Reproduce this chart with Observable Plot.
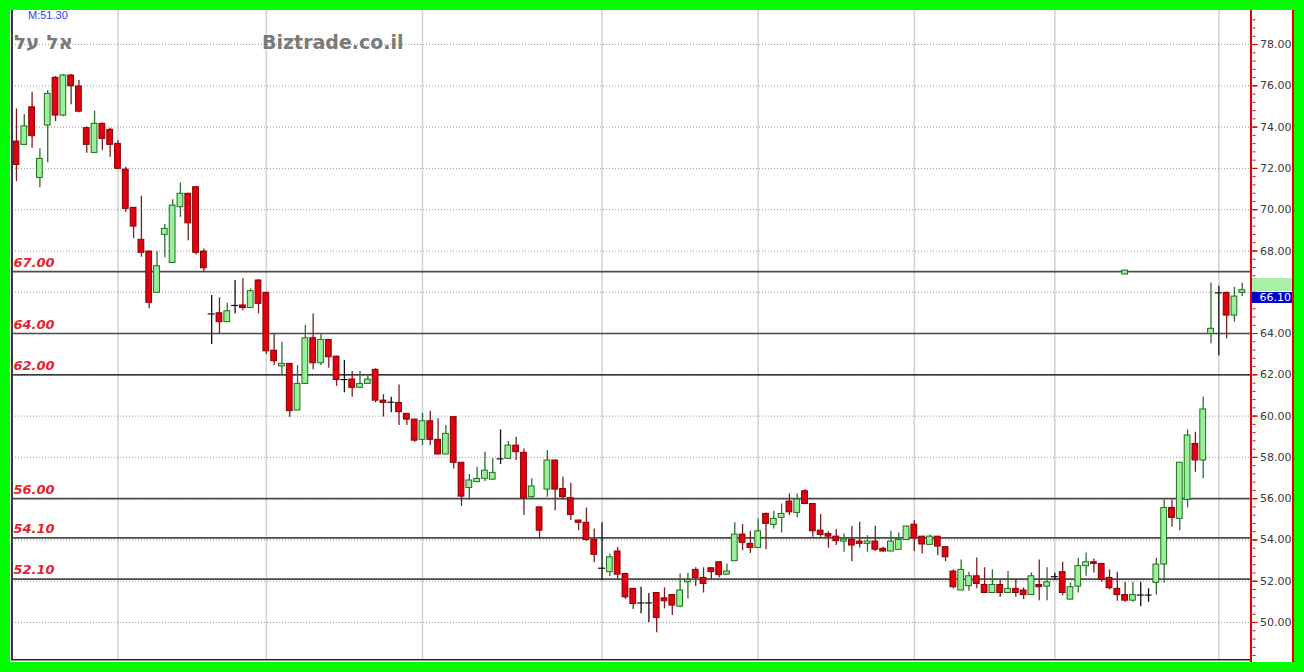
<!DOCTYPE html>
<html><head><meta charset="utf-8">
<script src="https://cdn.jsdelivr.net/npm/d3@7"></script>
<script src="https://cdn.jsdelivr.net/npm/@observablehq/plot@0.6"></script>
<style>
html,body{margin:0;padding:0;}
body{width:1304px;height:672px;background:#00ff00;position:relative;overflow:hidden;font-family:"DejaVu Sans",sans-serif;}
#panel{position:absolute;left:10px;top:10px;width:1284px;height:652px;background:#fff;overflow:hidden;}
.ov{position:absolute;}
</style></head><body>
<div id="panel"></div>
<script>
// OHLC values, one per trading day
const opens = [73.30,73.14,74.96,71.54,74.08,76.39,74.56,76.50,75.97,73.95,72.75,74.16,73.87,73.19,71.94,70.09,68.54,67.97,65.97,68.78,67.42,70.12,70.77,71.09,67.97,
64.95,64.98,64.55,65.36,65.36,65.24,66.57,65.97,63.17,62.41,62.53,60.27,61.56,63.77,62.56,63.69,62.88,61.77,61.77,61.37,61.56,62.24,60.75,60.67,60.64,60.11,59.83,58.85,59.75,58.85,58.14,59.95,
57.74,56.52,56.80,56.96,56.92,57.93,57.93,58.57,58.22,56.07,55.58,56.44,57.85,56.47,56.02,54.94,54.83,54.00,52.63,52.44,53.44,52.35,51.63,50.95,50.95,51.43,
51.17,51.33,50.77,51.95,52.55,52.16,52.63,52.92,52.32,52.97,54.26,53.81,53.61,55.26,54.73,55.07,55.86,55.31,56.36,55.74,54.45,54.29,54.16,53.92,54.00,53.92,53.81,53.92,53.57,53.44,53.52,54.00,54.74,54.16,53.76,
54.16,53.65,52.47,51.55,51.76,52.24,51.82,51.43,51.82,51.43,51.63,51.55,51.33,51.82,51.74,52.22,52.44,51.11,51.74,52.73,52.92,52.84,52.16,51.63,51.33,51.06,51.33,51.33,51.92,
52.81,55.55,55.02,55.94,58.65,57.85,63.98,65.97,65.97,64.87,65.97];
const highs = [74.88,74.61,75.69,72.95,75.77,76.45,76.55,76.55,76.26,74.00,74.77,74.20,73.95,73.35,72.06,70.10,70.65,68.00,67.97,69.28,70.48,71.30,70.80,71.10,68.10,
65.84,65.73,65.47,66.57,66.65,66.16,66.60,66.00,63.95,63.58,62.55,62.45,64.39,64.95,63.95,63.70,62.90,62.69,62.16,62.16,61.96,62.30,61.04,60.91,61.51,60.12,59.85,60.14,60.24,59.87,59.54,59.97,
57.75,57.17,57.52,58.25,57.93,59.33,58.77,58.97,58.41,56.96,55.60,58.33,57.86,57.04,56.75,54.96,55.55,54.53,54.83,53.32,53.64,52.40,51.65,51.71,51.40,51.45,
51.68,51.35,52.35,52.39,52.65,52.65,52.65,52.93,52.84,54.83,54.74,54.42,55.02,55.30,55.39,55.74,56.23,56.23,56.43,55.75,55.23,54.40,54.49,54.29,54.65,54.86,54.21,54.66,53.65,54.42,54.34,54.67,54.94,54.17,54.24,
54.17,53.66,52.55,53.03,52.44,53.13,52.65,52.55,52.03,52.47,52.06,51.68,52.40,53.03,52.65,52.39,52.92,51.92,53.11,53.37,53.08,52.85,52.55,52.44,51.95,51.95,51.95,51.63,53.11,
55.94,55.94,57.75,59.33,59.22,60.91,66.45,66.29,66.00,66.24,66.45];
const lows = [71.36,73.10,72.98,71.06,72.27,74.27,74.50,75.08,74.70,72.73,72.75,72.86,72.54,71.95,69.88,68.59,67.70,65.20,65.97,67.67,67.42,69.63,68.50,67.81,67.00,
63.47,63.98,64.55,64.95,65.11,65.24,64.95,62.98,62.45,61.96,59.95,60.27,61.56,62.24,62.45,62.32,61.44,61.13,60.91,61.37,61.56,60.64,59.95,60.16,59.54,59.54,58.73,58.57,58.57,58.14,58.14,57.44,
55.62,55.94,56.80,56.83,56.92,57.65,57.93,57.85,55.18,55.96,54.05,56.07,55.42,55.94,54.94,54.45,53.92,52.89,52.03,52.23,52.08,51.11,50.63,50.42,50.00,49.50,
50.66,50.34,50.71,51.14,51.74,51.43,52.06,52.16,52.30,52.97,53.48,53.35,53.60,53.53,54.53,54.34,55.18,55.07,55.70,54.13,54.13,53.60,53.73,53.40,52.95,53.61,53.40,53.44,53.42,53.44,53.50,54.00,53.44,53.32,53.76,
53.24,52.95,51.63,51.55,51.51,51.63,51.42,51.43,51.22,51.43,51.22,51.11,51.33,51.06,51.06,52.03,51.30,51.10,51.43,52.24,52.40,51.95,51.58,51.03,50.98,50.98,50.77,50.98,51.33,
51.90,54.61,54.45,55.55,57.28,56.96,63.50,62.93,63.74,64.55,65.79];
const closes = [72.17,74.04,73.56,72.46,75.61,74.56,76.50,75.98,74.75,73.14,74.16,73.43,73.14,71.98,70.04,69.18,67.91,65.49,67.26,69.07,70.20,70.77,69.34,67.91,67.16,
64.95,64.55,65.08,65.36,65.24,66.05,65.44,63.14,62.66,62.53,60.24,61.56,63.77,62.56,63.69,62.85,61.75,61.77,61.37,61.56,61.77,60.75,60.64,60.67,60.19,59.83,58.81,59.75,58.85,58.14,59.14,57.74,
56.10,56.88,56.96,57.36,57.25,57.93,58.57,58.25,56.02,56.59,54.45,57.85,56.44,56.07,55.21,54.83,54.00,53.28,52.63,53.16,52.32,51.22,50.90,50.95,50.95,50.22,
51.03,50.82,51.55,52.06,52.16,51.87,52.44,52.30,52.47,54.26,53.86,53.61,54.42,54.78,55.02,55.26,55.34,55.96,55.74,54.42,54.24,54.16,53.94,54.02,53.73,53.81,53.92,53.53,53.44,53.92,54.00,54.65,54.08,53.78,54.16,
53.68,53.16,51.71,52.55,52.24,51.87,51.43,51.82,51.43,51.63,51.43,51.33,52.24,51.71,51.95,52.22,51.43,51.71,52.73,52.92,52.84,52.06,51.66,51.33,51.06,51.33,51.33,51.33,52.81,
55.55,55.07,57.74,59.06,57.85,60.32,64.23,65.97,64.87,65.79,66.10];

// odd single marker near 67
const markerIndex = [142];
const markerOpen = [66.86];
const markerClose = [67.05];

// horizontal support/resistance levels
const levels = [67, 64, 62, 56, 54.1, 52.1];
// month separators (candle index)
const monthStarts = [13, 32, 52, 75, 95, 115, 133, 154];
// right axis tick values
const yTicks = [50,52,54,56,58,60,62,64,66,68,70,72,74,76,78];
const lastPrice = 66.10;

const candles = opens.map((o, i) => ({i, o, h: highs[i], l: lows[i], c: closes[i]}));
const reds = candles.filter(d => d.c < d.o);
const greens = candles.filter(d => d.c > d.o);
const dojis = candles.filter(d => d.c === d.o);
const markers = markerIndex.map((i, k) => ({i, o: markerOpen[k], c: markerClose[k]}));
const minorTicks = d3.range(48.4, 79.6, 0.4);
// the label next to the last-price box is hidden by it in the reference
const labelTicks = yTicks.filter(v => Math.abs(v - lastPrice) > 0.5);

const HW = 0.37;
const body = (extra) => Object.assign({
  x1: d => d.i - HW, x2: d => d.i + HW,
  y1: d => Math.min(d.o, d.c), y2: d => Math.max(d.o, d.c)
}, extra);

const plot = Plot.plot({
  width: 1284, height: 652,
  marginLeft: 2, marginRight: 42.5, marginTop: 0, marginBottom: 2,
  x: {type: "linear", domain: [-0.51, 158.25], axis: null},
  y: {domain: [48.16, 79.65]},
  style: {fontFamily: "DejaVu Sans", background: "transparent", overflow: "visible"},
  marks: [
    Plot.ruleX(monthStarts, {x: d => d, stroke: "#d2d2d2", strokeWidth: 1.5}),
    Plot.ruleY(yTicks, {y: d => d, stroke: "#9a9a9a", strokeDasharray: "1,2"}),
    Plot.ruleY(levels.filter(v => v !== 62), {y: d => d, stroke: "#4a4a4a", strokeWidth: 1.6}),
    Plot.ruleY(levels.filter(v => v === 62), {y: d => d, stroke: "#000", strokeWidth: 1.2}),
    Plot.text(levels, {y: d => d, text: d => d.toFixed(2), frameAnchor: "left", textAnchor: "start",
      dx: 1, dy: -9, fill: "#e8202c", fontWeight: "bold", fontStyle: "italic", fontSize: 13}),
    // wicks
    Plot.ruleX(reds, {x: "i", y1: "l", y2: "h", stroke: "#7a1f1f", strokeWidth: 1.3}),
    Plot.ruleX(greens, {x: "i", y1: "l", y2: "h", stroke: "#2e6e2e", strokeWidth: 1.3}),
    Plot.ruleX(dojis, {x: "i", y1: "l", y2: "h", stroke: "#111", strokeWidth: 1.3}),
    // bodies
    Plot.rect(reds, body({fill: "#e00010", stroke: "#8a0000", strokeWidth: 1})),
    Plot.rect(greens, body({fill: "#98f098", stroke: "#1f6f1f", strokeWidth: 1})),
    Plot.ruleY(dojis, {y: "o", x1: d => d.i - 0.45, x2: d => d.i + 0.45, stroke: "#111", strokeWidth: 1.2}),
    Plot.rect(markers, body({fill: "#98f098", stroke: "#1f6f1f", strokeWidth: 1})),
    // right axis
    Plot.axisY({anchor: "right", ticks: minorTicks, tickSize: 3, stroke: "#e00000", tickFormat: () => ""}),
    Plot.axisY({anchor: "right", ticks: yTicks, tickSize: 5, stroke: "#e00000", tickFormat: () => ""}),
    Plot.axisY({anchor: "right", ticks: labelTicks, tickSize: 5, stroke: "#e00000", tickPadding: 3,
      tickFormat: d => d.toFixed(2), fontSize: 11, fill: "#3a3a3a"})
  ]
});

const panel = document.getElementById("panel");
panel.appendChild(plot);
plot.style.position = "absolute";
plot.style.left = "0px";
plot.style.top = "0px";

function ov(css, html) {
  const d = document.createElement("div");
  d.className = "ov";
  d.style.cssText = css;
  if (html) d.innerHTML = html;
  panel.appendChild(d);
  return d;
}
// frame lines
ov("left:1px;top:0;width:2px;height:651px;background:#3a3a3a;");
ov("left:1px;top:649px;width:1241px;height:1px;background:#222;");
ov("left:1px;top:650px;width:1241px;height:1px;background:#999;");
ov("left:1240px;top:0;width:2px;height:652px;background:#e00000;");
ov("left:1282px;top:0;width:2px;height:652px;background:#e00000;");

// last price boxes
const yLast = plot.scale("y").apply(lastPrice);
ov(`left:1242px;top:${yLast - 12}px;width:40px;height:13px;background:#a8f0a8;`);
ov(`left:1242px;top:${yLast + 2}px;width:40px;height:11px;background:#0000d8;color:#fff;font:11px 'DejaVu Sans';line-height:11px;text-align:right;padding-right:1px;box-sizing:border-box;`, lastPrice.toFixed(2));

// annotations
ov("left:18px;top:-1px;font:11px 'Liberation Sans',Arial,sans-serif;color:#2a3cff;line-height:12px;", "M:51.30");
ov("left:4px;top:20px;font:bold 20px 'DejaVu Sans';color:#7a7a7a;line-height:24px;direction:rtl;", "אל על");
ov("left:252px;top:20px;font:bold 19px 'DejaVu Sans';color:#7a7a7a;line-height:24px;", "Biztrade.co.il");
</script>
</body></html>
